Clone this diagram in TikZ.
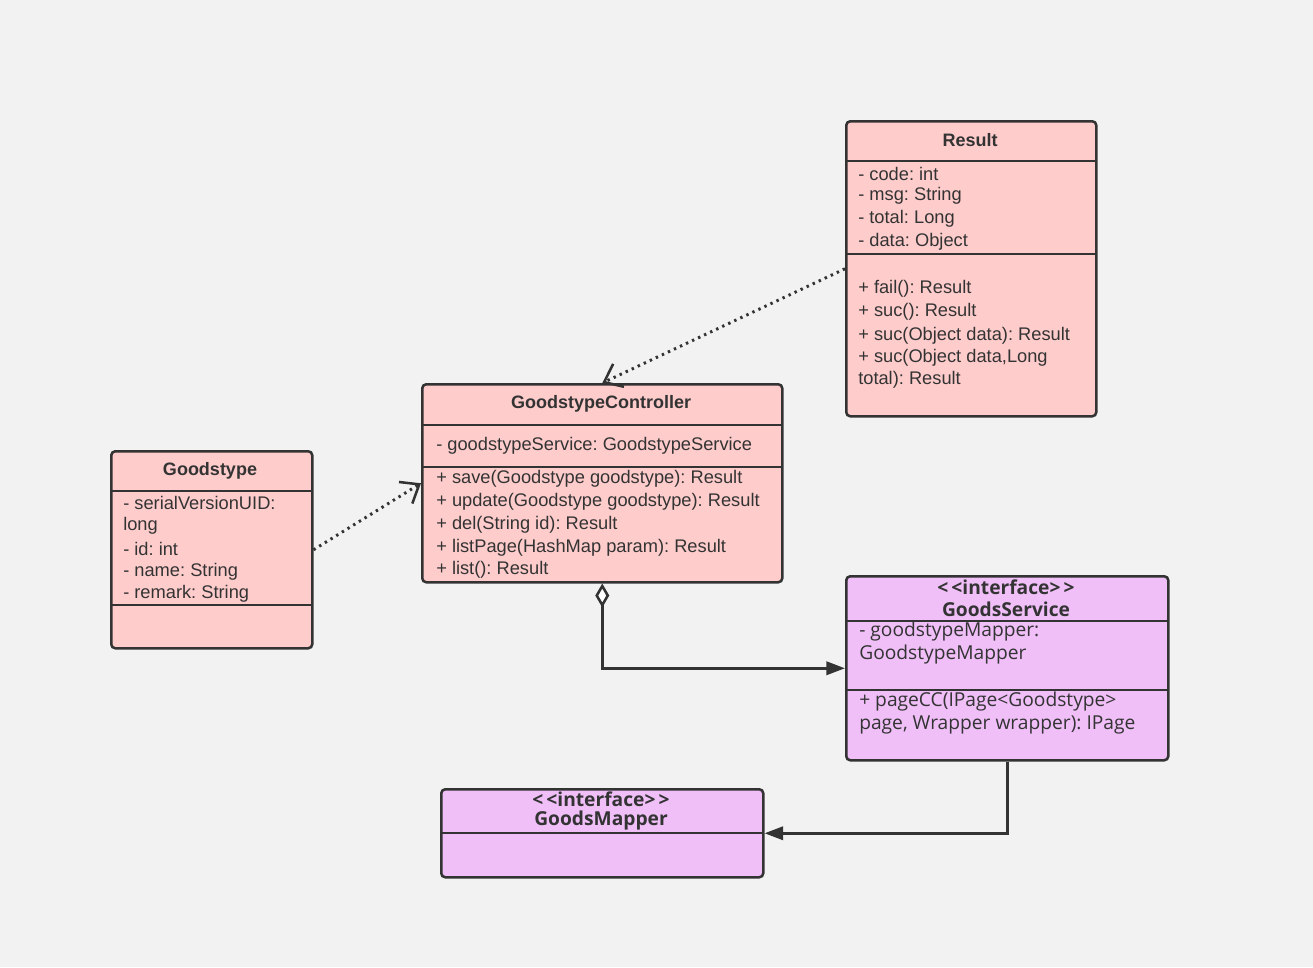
\documentclass[tikz,border=0pt]{standalone}
\usepackage{fontspec}
\setmainfont{Liberation Sans}
\newfontfamily\yh{Open Sans}
\usetikzlibrary{arrows.meta}
\definecolor{bgc}{HTML}{F2F2F2}
\definecolor{edge}{HTML}{333333}
\definecolor{pinkf}{HTML}{FFCCCC}
\definecolor{purpf}{HTML}{F0BFF8}
\definecolor{txtc}{HTML}{333333}
\frenchspacing
\begin{document}
\begin{tikzpicture}[x=0.75pt,y=-0.75pt,
  cls/.style={draw=edge, line width=1.9pt, rounded corners=3pt, inner sep=0pt, anchor=north west},
  pinkcls/.style={cls, fill=pinkf},
  purpcls/.style={cls, fill=purpf},
  sep/.style={draw=edge, line width=1.9pt},
  txt/.style={anchor=west, inner sep=0pt, text=txtc, font=\frenchspacing\fontsize{13.7}{15}\selectfont},
  ytxt/.style={anchor=west, inner sep=0pt, text=txtc, font=\frenchspacing\yh\fontsize{14.4}{16}\selectfont},
  ttl/.style={inner sep=0pt, text=txtc, font=\bfseries\fontsize{13.5}{15}\selectfont},
  yttl/.style={inner sep=0pt, text=txtc, font=\yh\bfseries\fontsize{14.4}{16}\selectfont},
  dep/.style={draw=edge, line width=2.2pt, dash pattern=on 1.8pt off 3.2pt, -{Straight Barb[length=12pt,width=19pt,line width=1.9pt]}},
  assoc/.style={draw=edge, line width=2pt, -{Triangle[length=14pt,width=10pt]}},
  aggr/.style={draw=edge, line width=2pt, {Diamond[open,fill=white,length=18pt,width=10.5pt,line width=1.9pt]}-{Triangle[length=14pt,width=10pt]}}
]
\fill[bgc] (0,0) rectangle (1313,967);
\useasboundingbox (0,0) rectangle (1313,967);

% Result
\node[pinkcls, minimum width=187.5pt, minimum height=221.25pt] (result) at (845,120) {};
\draw[sep] (845,161) -- (1095,161);
\draw[sep] (845,254) -- (1095,254);
\node[ttl] (resultT) at (970,140) {Result};
\node[txt] (r1) at (858,174) {- code: int};
\node[txt] (r2) at (858,196) {- msg: String};
\node[txt] (r3) at (858,219) {- total: Long};
\node[txt] (r4) at (858,242) {- data: Object};
\node[txt] (r5) at (858,289) {+ fail(): Result};
\node[txt] (r6) at (858,312) {+ suc(): Result};
\node[txt] (r7) at (858,336) {+ suc(Object data): Result};
\node[txt] (r8) at (858,358) {+ suc(Object data,Long};
\node[txt] (r9) at (858,380) {total): Result};

% GoodstypeController
\node[pinkcls, minimum width=270pt, minimum height=148.5pt] (ctrl) at (421,383) {};
\draw[sep] (421,425) -- (781,425);
\draw[sep] (421,467) -- (781,467);
\node[ttl] (ctrlT) at (601,404) {GoodstypeController};
\node[txt] (c1) at (436,446) {- goodstypeService: GoodstypeService};
\node[txt] (c2) at (436,479) {+ save(Goodstype goodstype): Result};
\node[txt] (c3) at (436,502) {+ update(Goodstype goodstype): Result};
\node[txt] (c4) at (436,525) {+ del(String id): Result};
\node[txt] (c5) at (436,548) {+ listPage(HashMap param): Result};
\node[txt] (c6) at (436,570) {+ list(): Result};

% Goodstype
\node[pinkcls, minimum width=150.75pt, minimum height=147.75pt] (gt) at (110,450) {};
\draw[sep] (110,491) -- (311,491);
\draw[sep] (110,605) -- (311,605);
\node[ttl] (gtT) at (210,471) {Goodstype};
\node[txt] (g1) at (123,503) {- serialVersionUID:};
\node[txt] (g2) at (123,526) {long};
\node[txt] (g3) at (123,549) {- id: int};
\node[txt] (g4) at (123,572) {- name: String};
\node[txt] (g5) at (123,594) {- remark: String};

% GoodsService
\node[purpcls, minimum width=241.5pt, minimum height=138pt] (svc) at (845,575) {};
\draw[sep] (845,621) -- (1167,621);
\draw[sep] (845,690) -- (1167,690);
\node[yttl] (svcS) at (1006,587) {<\,<interface>\,>};
\node[yttl] (svcT) at (1006,609) {GoodsService};
\node[ytxt] (s1) at (859,632) {- goodstypeMapper:};
\node[ytxt] (s2) at (859,655) {GoodstypeMapper};
\node[ytxt] (s3) at (859,702) {+ pageCC(IPage<Goodstype>};
\node[ytxt] (s4) at (859,725) {page, Wrapper wrapper): IPage};

% GoodsMapper
\node[purpcls, minimum width=241.5pt, minimum height=66pt] (mapper) at (440,788) {};
\draw[sep] (440,833) -- (762,833);
\node[yttl] (mapS) at (601,799) {<\,<interface>\,>};
\node[yttl] (mapT) at (601,821) {GoodsMapper};

% connectors
\draw[dep] (result.west) -- (ctrl.north);
\draw[dep] (gt.east) -- (ctrl.west);
\draw[aggr] (ctrl.south) |- (svc.west);
\draw[assoc] (svc.south) |- (mapper.east);
\end{tikzpicture}
\end{document}
